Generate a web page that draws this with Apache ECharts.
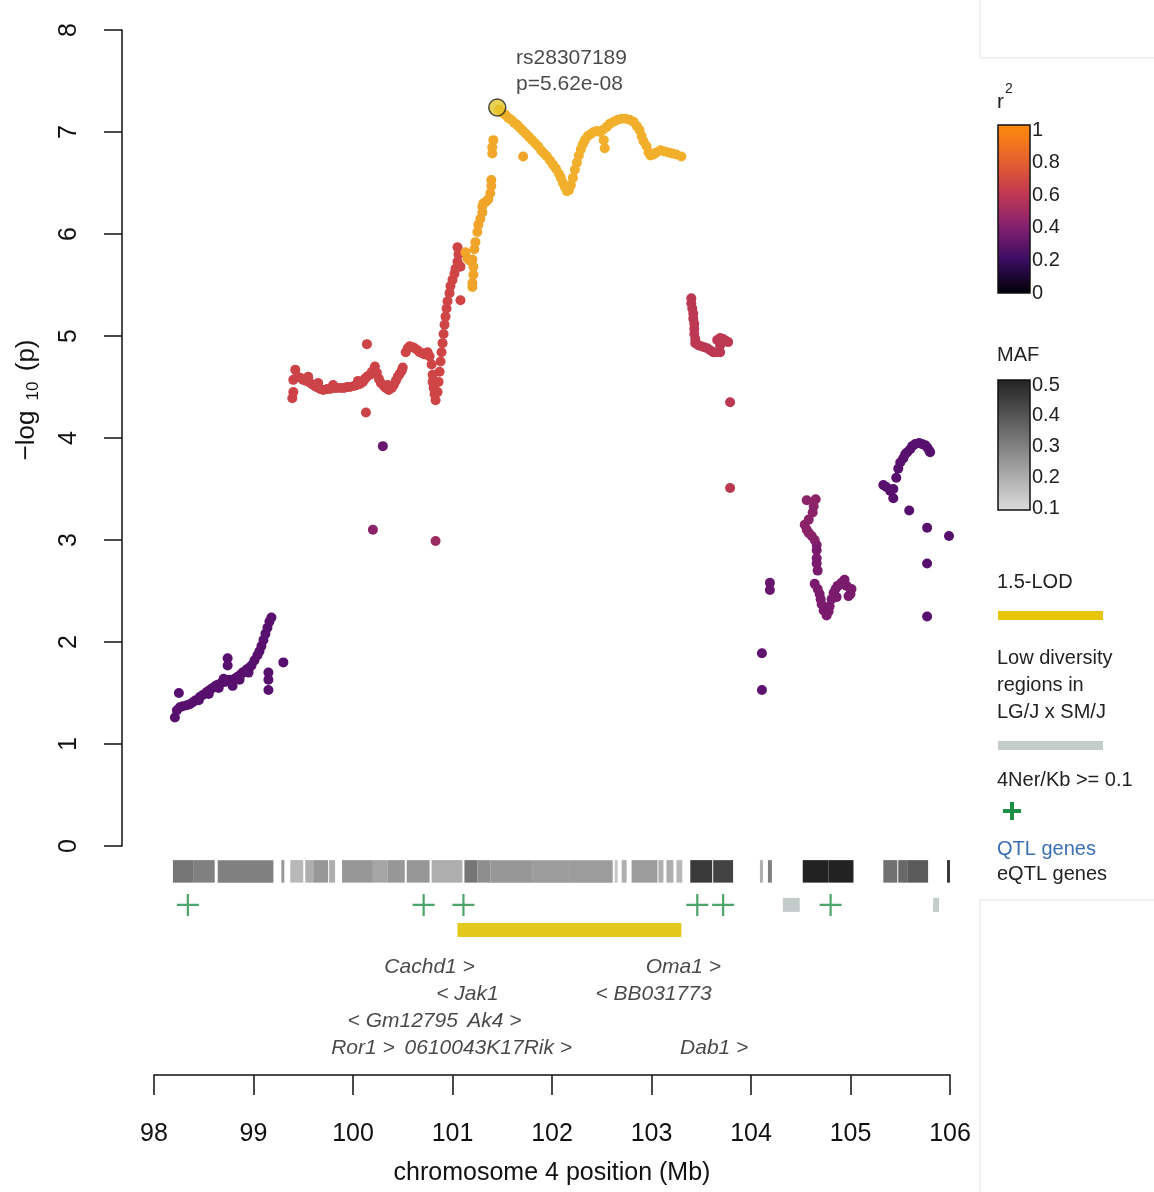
<!DOCTYPE html>
<html>
<head>
<meta charset="utf-8">
<script src="https://cdn.jsdelivr.net/npm/echarts@6/dist/echarts.min.js"></script>
<style>
html, body { margin: 0; background: #fff; }
#chart { width: 1154px; height: 1192px; }
</style>
</head>
<body>
<div id="chart"></div>
<script>
// SNPs: [position (Mb), -log10(p), r2 with lead SNP]
var snpPoints = [
  // purple block 98.2 - 99.3
  [98.21,1.26,.3],[98.25,1.50,.3],[98.23,1.33,.3],[98.26,1.36,.3],[98.29,1.37,.3],[98.33,1.38,.3],[98.36,1.39,.3],
  [98.39,1.41,.3],[98.42,1.43,.3],[98.46,1.46,.3],[98.49,1.48,.3],[98.53,1.51,.3],[98.56,1.53,.3],[98.59,1.55,.3],
  [98.62,1.57,.3],[98.64,1.58,.3],[98.68,1.60,.3],[98.72,1.61,.3],[98.74,1.84,.3],[98.74,1.77,.3],[98.76,1.63,.3],
  [98.79,1.57,.3],[98.81,1.64,.3],[98.84,1.66,.3],[98.87,1.68,.3],[98.89,1.70,.3],[98.93,1.73,.3],[98.96,1.75,.3],
  [98.98,1.77,.3],[99.01,1.82,.3],[99.04,1.87,.3],[99.06,1.91,.3],[99.08,1.96,.3],[99.10,2.02,.3],[99.12,2.08,.3],
  [99.14,2.14,.3],[99.16,2.20,.3],[99.18,2.24,.3],[99.15,1.70,.3],[99.15,1.63,.3],[99.15,1.53,.3],[99.30,1.80,.3],
  [98.45,1.43,.3],[98.55,1.49,.3],[98.65,1.55,.3],[98.70,1.64,.3],[98.86,1.63,.3],[98.95,1.70,.3],
  // red plateau 99.4 - 100.5
  [99.39,4.39,.66],[99.40,4.45,.66],[99.40,4.57,.66],[99.42,4.67,.66],[99.44,4.60,.66],[99.47,4.59,.66],[99.50,4.57,.66],
  [99.53,4.56,.66],[99.57,4.54,.66],[99.60,4.52,.66],[99.63,4.50,.66],[99.67,4.48,.66],[99.70,4.47,.66],[99.74,4.48,.66],
  [99.77,4.48,.66],[99.81,4.49,.66],[99.84,4.49,.66],[99.88,4.49,.66],[99.91,4.49,.66],[99.94,4.50,.66],[99.97,4.50,.66],
  [100.01,4.51,.66],[100.04,4.52,.66],[100.07,4.53,.66],[100.10,4.55,.66],[100.12,4.58,.66],[100.14,4.60,.66],
  [100.14,4.92,.66],[100.17,4.62,.66],[100.19,4.65,.66],[100.22,4.70,.66],[100.24,4.64,.66],[100.26,4.58,.66],
  [100.28,4.54,.66],[100.31,4.51,.66],[100.33,4.49,.66],[100.36,4.47,.66],[100.39,4.49,.66],[100.41,4.52,.66],
  [100.43,4.56,.66],[100.45,4.60,.66],[100.47,4.63,.66],[100.49,4.66,.66],[100.50,4.69,.66],[100.13,4.25,.66],
  [99.55,4.60,.66],[99.65,4.54,.66],[99.80,4.52,.66],[100.05,4.56,.66],[100.35,4.52,.66],
  [100.30,3.92,.35],[100.20,3.10,.45],[100.83,2.99,.5],
  // red block 100.5 - 101.1
  [100.53,4.84,.67],[100.55,4.88,.67],[100.57,4.90,.67],[100.60,4.89,.67],[100.62,4.88,.67],[100.65,4.86,.67],
  [100.67,4.84,.67],[100.70,4.83,.67],[100.72,4.82,.67],[100.75,4.84,.67],[100.77,4.80,.67],[100.79,4.72,.67],
  [100.80,4.62,.67],[100.80,4.55,.67],[100.81,4.49,.67],[100.82,4.43,.67],[100.83,4.37,.67],[100.85,4.45,.67],
  [100.86,4.55,.67],[100.87,4.65,.67],[100.88,4.75,.67],[100.89,4.84,.67],[100.90,4.93,.67],[100.91,5.02,.67],
  [100.92,5.11,.67],[100.93,5.19,.67],[100.94,5.27,.67],[100.95,5.34,.67],[100.97,5.42,.67],[100.98,5.49,.67],
  [101.00,5.55,.67],[101.02,5.61,.67],[101.03,5.66,.67],[101.05,5.73,.67],[101.06,5.80,.67],[101.05,5.87,.67],
  [101.08,5.68,.67],[101.08,5.35,.67],
  // orange rise 101.1 - 101.4
  [101.13,5.82,.92],[101.15,5.76,.92],[101.17,5.74,.92],[101.20,5.75,.92],[101.21,5.68,.92],[101.21,5.60,.92],[101.20,5.52,.92],
  [101.20,5.48,.92],[101.22,5.85,.92],[101.23,5.92,.92],[101.25,6.02,.92],[101.26,6.09,.92],[101.28,6.15,.92],[101.30,6.21,.92],
  [101.30,6.27,.92],[101.31,6.30,.92],[101.34,6.32,.92],[101.36,6.34,.92],[101.38,6.40,.92],[101.39,6.47,.92],[101.39,6.53,.92],
  [101.40,6.79,.94],[101.40,6.85,.94],[101.41,6.92,.94],[101.71,6.76,.92],
  // yellow peak 101.45 - 103.3
  [101.47,7.22,.97],[101.50,7.19,.97],[101.53,7.17,.97],[101.56,7.14,.97],[101.59,7.12,.97],[101.62,7.09,.97],
  [101.65,7.07,.97],[101.68,7.04,.97],[101.71,7.01,.97],[101.74,6.98,.97],[101.77,6.95,.97],[101.80,6.92,.97],
  [101.83,6.89,.97],[101.86,6.86,.97],[101.89,6.82,.97],[101.92,6.79,.97],[101.95,6.76,.97],[101.98,6.72,.97],
  [102.01,6.68,.97],[102.04,6.64,.97],[102.07,6.59,.97],[102.09,6.55,.97],[102.11,6.50,.97],[102.13,6.46,.97],
  [102.15,6.42,.97],[102.17,6.43,.97],[102.19,6.48,.97],[102.21,6.55,.97],[102.23,6.63,.97],[102.25,6.70,.97],
  [102.27,6.77,.97],[102.29,6.83,.97],[102.31,6.88,.97],[102.33,6.92,.97],[102.36,6.96,.97],[102.39,6.98,.97],
  [102.42,7.00,.97],[102.45,7.01,.97],[102.48,7.00,.97],[102.51,7.02,.97],[102.52,6.92,.97],[102.53,6.84,.97],
  [102.55,7.05,.97],[102.58,7.08,.97],[102.62,7.10,.97],[102.66,7.12,.97],[102.70,7.13,.97],[102.74,7.13,.97],
  [102.78,7.12,.97],[102.82,7.10,.97],[102.85,7.06,.97],[102.88,7.02,.97],[102.90,6.96,.97],[102.92,6.91,.97],
  [102.95,6.86,.97],[102.97,6.80,.97],[102.99,6.77,.97],[103.02,6.78,.97],[103.05,6.80,.97],[103.09,6.82,.97],
  [103.13,6.81,.97],[103.17,6.80,.97],[103.21,6.79,.97],[103.25,6.78,.97],[103.30,6.76,.97],
  // red drop 103.4 - 103.8
  [103.40,5.37,.6],[103.40,5.32,.6],[103.41,5.27,.6],[103.42,5.22,.6],[103.42,5.17,.6],[103.43,5.12,.6],[103.43,5.07,.6],
  [103.43,5.02,.6],[103.44,4.97,.6],[103.44,4.93,.6],[103.47,4.91,.6],[103.50,4.90,.6],[103.53,4.89,.6],[103.56,4.88,.6],
  [103.59,4.86,.6],[103.62,4.84,.6],[103.65,4.84,.6],[103.69,4.84,.6],[103.69,4.91,.6],[103.66,4.96,.6],[103.69,4.98,.6],
  [103.72,4.97,.6],[103.75,4.95,.6],[103.77,4.94,.6],[103.79,4.35,.6],[103.79,3.51,.6],
  // magenta block 104.1 - 105.0
  [104.56,3.39,.45],[104.65,3.40,.45],[104.63,3.33,.45],[104.62,3.27,.45],[104.58,3.20,.45],[104.54,3.15,.45],
  [104.56,3.10,.45],[104.58,3.07,.45],[104.61,3.04,.45],[104.64,3.00,.45],[104.66,2.95,.42],[104.66,2.90,.4],
  [104.66,2.82,.4],[104.66,2.77,.4],[104.67,2.70,.4],[104.64,2.57,.4],[104.67,2.52,.4],[104.69,2.47,.4],
  [104.70,2.42,.4],[104.71,2.37,.4],[104.73,2.31,.4],[104.76,2.26,.4],[104.78,2.30,.4],[104.79,2.35,.4],
  [104.81,2.42,.4],[104.83,2.48,.4],[104.85,2.52,.4],[104.87,2.55,.4],[104.89,2.56,.4],[104.91,2.58,.4],
  [104.94,2.61,.4],[104.96,2.55,.4],[104.98,2.45,.4],[105.00,2.47,.4],[105.01,2.52,.4],[104.86,2.44,.4],
  [104.19,2.58,.35],[104.19,2.51,.35],[104.11,1.89,.32],[104.11,1.53,.32],
  // purple block 105.3 - 106
  [105.33,3.54,.3],[105.36,3.52,.3],[105.40,3.48,.3],[105.43,3.41,.3],[105.43,3.50,.3],[105.46,3.61,.3],[105.48,3.70,.3],
  [105.50,3.76,.3],[105.53,3.80,.3],[105.55,3.84,.3],[105.57,3.86,.3],[105.60,3.89,.3],[105.62,3.92,.3],[105.65,3.94,.3],
  [105.69,3.95,.3],[105.72,3.94,.3],[105.75,3.93,.3],[105.77,3.91,.3],[105.79,3.88,.3],[105.80,3.86,.3],
  [105.59,3.29,.3],[105.77,3.12,.3],[105.99,3.04,.3],[105.77,2.77,.3],[105.77,2.25,.3]
];
var leadSnp = [101.45, 7.24];
var leadName = 'rs28307189';
var leadP = '5.62e-08';
var threshold = 5.1;

// MAF blocks: [start, end, maf]
var mafBlocks = [
  [98.19,98.40,.32],[98.40,98.61,.30],[98.64,99.20,.30],[99.28,99.31,.25],[99.37,99.50,.18],[99.52,99.60,.2],
  [99.60,99.75,.25],[99.76,99.82,.2],[99.89,100.20,.25],[100.20,100.35,.22],[100.35,100.52,.25],[100.54,100.77,.25],
  [100.79,101.10,.2],[101.12,101.25,.32],[101.25,101.38,.27],[101.38,101.80,.25],[101.80,102.18,.24],
  [102.18,102.61,.24],[102.63,102.66,.15],[102.70,102.75,.2],[102.80,103.06,.24],[103.07,103.12,.2],
  [103.15,103.22,.2],[103.25,103.31,.18],[103.39,103.61,.45],[103.62,103.82,.43],[104.09,104.12,.2],
  [104.17,104.21,.3],[104.52,104.78,.5],[104.78,105.03,.5],[105.33,105.47,.33],[105.48,105.57,.35],
  [105.57,105.78,.38],[105.97,106.0,.45]
];
// recombination hotspots (4Ner/Kb >= 0.1)
var hotspots = [98.34, 100.71, 101.11, 103.46, 103.72, 104.80];
var lowDiversity = [[104.32,104.49],[105.83,105.89]];
var lodInterval = [101.05, 103.30];
// genes: [name, centre (Mb), row]
var genes = [
  ['Cachd1 >',100.77,0],['< Jak1',101.15,1],['< Gm12795',100.50,2],['Ak4 >',101.42,2],
  ['Ror1 >',100.10,3],['0610043K17Rik >',101.36,3],['Oma1 >',103.32,0],['< BB031773',103.02,1],['Dab1 >',103.63,3]
];
var r2Ticks = [1, 0.8, 0.6, 0.4, 0.2, 0];
var mafTicks = [0.5, 0.4, 0.3, 0.2, 0.1];

var FONT = 'Liberation Sans, Arial, sans-serif';
// track rows in lower panel (y units, 22.5 px each)
var ROW = { maf: 0.95, hot: 2.44, lod: 3.56, gene0: 5.2, geneStep: 1.2 };

function mafColor(m) {
  var g = Math.round(221 - (m - 0.1) / 0.4 * 187);
  return 'rgb(' + g + ',' + g + ',' + g + ')';
}

var plus = 'path://M9,0 L11,0 L11,9 L20,9 L20,11 L11,11 L11,20 L9,20 L9,11 L0,11 L0,9 L9,9 Z';

var option = {
  backgroundColor: '#fff',
  animation: false,
  textStyle: { fontFamily: FONT },
  grid: [
    { left: 154, width: 796, top: 30, height: 816 },
    { left: 154, width: 796, top: 850, height: 225 }
  ],
  xAxis: [
    { gridIndex: 0, type: 'value', min: 98, max: 106, show: false },
    { gridIndex: 1, type: 'value', min: 98, max: 106, interval: 1, position: 'bottom',
      axisLine: { show: true, onZero: false, lineStyle: { color: '#111', width: 1.5 } },
      axisTick: { show: true, length: 20, lineStyle: { color: '#111', width: 1.5 } },
      axisLabel: { fontSize: 25, color: '#111', margin: 47, fontFamily: FONT },
      splitLine: { show: false },
      name: 'chromosome 4 position (Mb)', nameLocation: 'middle', nameGap: 86,
      nameTextStyle: { fontSize: 25, color: '#111', fontFamily: FONT } }
  ],
  yAxis: [
    { gridIndex: 0, type: 'value', min: 0, max: 8, interval: 1, offset: 32,
      axisLine: { show: true, lineStyle: { color: '#111', width: 1.5 } },
      axisTick: { show: true, length: 18, lineStyle: { color: '#111', width: 1.5 } },
      axisLabel: { fontSize: 25, color: '#111', rotate: 90, margin: 40, fontFamily: FONT },
      splitLine: { show: false } },
    { gridIndex: 1, type: 'value', min: 0, max: 10, inverse: true, show: false }
  ],
  visualMap: {
    show: false, type: 'continuous', seriesIndex: 0, dimension: 2, min: 0, max: 1,
    inRange: { color: ['#000004','#1b0c41','#3b0f6f','#58106e','#7a1b6d','#9c2a63',
                       '#bd3853','#d64b40','#eb6a2a','#f0a02a','#f2b52b'] }
  },
  series: [
    { type: 'scatter', xAxisIndex: 0, yAxisIndex: 0, data: snpPoints, symbolSize: 10,
      itemStyle: { opacity: 1 },
      markLine: { silent: true, symbol: 'none', label: { show: false },
        lineStyle: { type: [9, 6], color: '#222', width: 1.5 },
        data: [[{ coord: [97.98, threshold] }, { coord: [105.95, threshold] }]] } },
    { type: 'scatter', xAxisIndex: 0, yAxisIndex: 0, data: [leadSnp], symbolSize: 17, z: 5,
      itemStyle: { color: '#e3c62b', borderColor: '#222', borderWidth: 1.5 },
      label: { show: true, position: [28, -53], align: 'left', color: '#1a1a1a', fontSize: 21,
        lineHeight: 26, fontFamily: FONT,
        formatter: leadName + '\np=' + leadP } },
    { type: 'custom', xAxisIndex: 1, yAxisIndex: 1, data: mafBlocks,
      renderItem: function (params, api) {
        var s = api.coord([api.value(0), ROW.maf]);
        var e = api.coord([api.value(1), ROW.maf]);
        var h = api.size([0, 1])[1];
        return { type: 'rect', shape: { x: s[0], y: s[1] - h / 2, width: Math.max(e[0] - s[0], 1.5), height: h },
                 style: { fill: mafColor(api.value(2)) } };
      } },
    { type: 'custom', xAxisIndex: 1, yAxisIndex: 1, data: lowDiversity,
      renderItem: function (params, api) {
        var s = api.coord([api.value(0), ROW.hot]);
        var e = api.coord([api.value(1), ROW.hot]);
        return { type: 'rect', shape: { x: s[0], y: s[1] - 7, width: e[0] - s[0], height: 14 },
                 style: { fill: '#c3cbcb' } };
      } },
    { type: 'custom', xAxisIndex: 1, yAxisIndex: 1, data: [lodInterval],
      renderItem: function (params, api) {
        var s = api.coord([api.value(0), ROW.lod]);
        var e = api.coord([api.value(1), ROW.lod]);
        return { type: 'rect', shape: { x: s[0], y: s[1] - 7, width: e[0] - s[0], height: 14 },
                 style: { fill: '#e3c81c' } };
      } },
    { type: 'scatter', xAxisIndex: 1, yAxisIndex: 1, symbol: plus, symbolSize: 22,
      itemStyle: { color: '#1f8f45' },
      data: hotspots.map(function (p) { return [p, ROW.hot]; }) },
    { type: 'scatter', xAxisIndex: 1, yAxisIndex: 1, symbolSize: 1,
      itemStyle: { color: 'transparent' },
      label: { show: true, position: 'inside', fontStyle: 'italic', fontSize: 21, color: '#1a1a1a',
        fontFamily: FONT, formatter: function (p) { return p.data[2]; } },
      data: genes.map(function (g) { return [g[1], ROW.gene0 + g[2] * ROW.geneStep, g[0]]; }) }
  ],
  graphic: []
};

// y axis title with subscript
option.graphic.push({ type: 'text', x: 27, y: 400, rotation: Math.PI / 2,
  style: { text: '\u2212log {s|10} (p)', fontSize: 26, fill: '#111', fontFamily: FONT,
    align: 'center', verticalAlign: 'middle',
    rich: { s: { fontSize: 17, fill: '#111', padding: [12, 3, 0, 3], fontFamily: FONT } } } });

// legend panel frame lines
[[980,0,980,58],[980,58,1154,58],[980,900,1154,900],[980,900,980,1192]].forEach(function (l) {
  option.graphic.push({ type: 'line', shape: { x1: l[0], y1: l[1], x2: l[2], y2: l[3] },
    style: { stroke: '#e2e2e2', lineWidth: 1 } });
});

function legendText(txt, x, y, extra) {
  var st = { text: txt, x: x, y: y, fontSize: 20, fill: '#222', fontFamily: FONT, verticalAlign: 'middle' };
  for (var k in extra) st[k] = extra[k];
  option.graphic.push({ type: 'text', style: st });
}

// r2 colour bar
legendText('r', 997, 102, { fontSize: 21 });
legendText('2', 1005, 89, { fontSize: 14 });
option.graphic.push({ type: 'rect', shape: { x: 998, y: 125, width: 32, height: 168 },
  style: { stroke: '#111', lineWidth: 1.5,
    fill: new echarts.graphic.LinearGradient(0, 0, 0, 1, [
      { offset: 0, color: '#ff8c0a' }, { offset: 0.2, color: '#e8642c' },
      { offset: 0.4, color: '#c43a4f' }, { offset: 0.6, color: '#862170' },
      { offset: 0.8, color: '#3a0d62' }, { offset: 1, color: '#000003' }]) } });
r2Ticks.forEach(function (v) {
  legendText(String(v), 1032, 130 + (1 - v) * 163, {});
});

// MAF bar
legendText('MAF', 997, 355, {});
option.graphic.push({ type: 'rect', shape: { x: 998, y: 380, width: 32, height: 130 },
  style: { stroke: '#111', lineWidth: 1.5,
    fill: new echarts.graphic.LinearGradient(0, 0, 0, 1, [
      { offset: 0, color: mafColor(0.5) }, { offset: 1, color: mafColor(0.1) }]) } });
mafTicks.forEach(function (v) {
  legendText(String(v), 1032, 385 + (0.5 - v) / 0.4 * 123, {});
});

// other legend entries
legendText('1.5-LOD', 997, 582, {});
option.graphic.push({ type: 'rect', shape: { x: 998, y: 611, width: 105, height: 9 }, style: { fill: '#e8c40a' } });
legendText('Low diversity', 997, 658, {});
legendText('regions in', 997, 685, {});
legendText('LG/J x SM/J', 997, 712, {});
option.graphic.push({ type: 'rect', shape: { x: 998, y: 741, width: 105, height: 9 }, style: { fill: '#c3cbcb' } });
legendText('4Ner/Kb >= 0.1', 997, 780, {});
option.graphic.push({ type: 'rect', shape: { x: 1010, y: 802, width: 4, height: 18 }, style: { fill: '#1f8f45' } });
option.graphic.push({ type: 'rect', shape: { x: 1003, y: 809, width: 18, height: 4 }, style: { fill: '#1f8f45' } });
legendText('QTL genes', 997, 849, { fill: '#3a6fb0' });
legendText('eQTL genes', 997, 874, {});

var myChart = echarts.init(document.getElementById('chart'));
myChart.setOption(option);
</script>
</body>
</html>
